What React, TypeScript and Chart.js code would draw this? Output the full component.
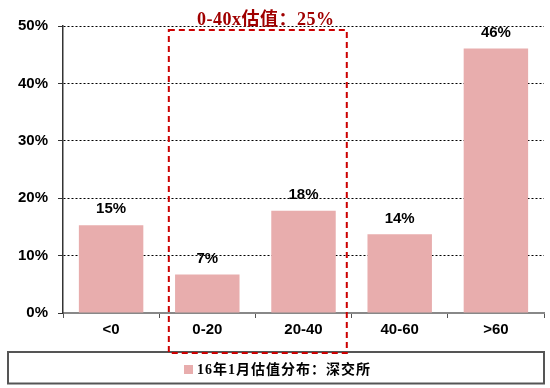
import React, { useEffect, useRef } from "react";
import { Chart, registerables } from "chart.js";

Chart.register(...registerables);

const categories = ["<0", "0-20", "20-40", "40-60", ">60"];
const values = [15.3, 6.7, 17.8, 13.7, 46.1];
const valueLabels = ["15%", "7%", "18%", "14%", "46%"];
const seriesName = "16年1月估值分布：深交所";
const highlightText = "0-40x估值：25%";
const yTicks = [0, 10, 20, 30, 40, 50];

const BAR_COLOR = "#E8ADAD";
const RED = "#CC0000";

const overlayPlugin = {
  id: "overlay",
  afterDatasetsDraw(chart: any) {
    const { ctx, scales } = chart;
    const x = scales.x;
    const meta = chart.getDatasetMeta(0);
    ctx.save();
    // value labels
    ctx.fillStyle = "#000";
    ctx.font = "bold 15px 'Liberation Sans', Arial, sans-serif";
    ctx.textAlign = "center";
    ctx.textBaseline = "middle";
    meta.data.forEach((bar: any, i: number) => {
      ctx.fillText(valueLabels[i], bar.x, bar.y - 16);
    });

    // legend box
    ctx.strokeStyle = "#555";
    ctx.lineWidth = 2;
    ctx.strokeRect(8, 352, 536, 31.5);
    ctx.font = "bold 14px 'Liberation Serif', 'Noto Sans CJK SC', serif";
    try {
      (ctx as any).letterSpacing = "1px";
    } catch (e) {}
    const tw = ctx.measureText(seriesName).width;
    const markerSize = 9;
    const total = markerSize + 4 + tw;
    const start = 184;
    ctx.fillStyle = BAR_COLOR;
    ctx.fillRect(start, 365, markerSize, markerSize);
    ctx.fillStyle = "#000";
    ctx.textAlign = "left";
    ctx.fillText(seriesName, start + markerSize + 4, 370);
    try {
      (ctx as any).letterSpacing = "0px";
    } catch (e) {}
    void total;

    // dashed highlight rectangle
    const left = x.getPixelForValue(0.6);
    const right = x.getPixelForValue(2.45);
    ctx.strokeStyle = RED;
    ctx.lineWidth = 2;
    ctx.setLineDash([6, 4]);
    ctx.strokeRect(left, chart.chartArea.top + 4, right - left, 353 - (chart.chartArea.top + 4));
    ctx.setLineDash([]);

    ctx.fillStyle = "#A00000";
    ctx.font = "bold 18px 'Liberation Serif', 'Noto Sans CJK SC', serif";
    try {
      (ctx as any).letterSpacing = "0.5px";
    } catch (e) {}
    ctx.textAlign = "center";
    ctx.textBaseline = "alphabetic";
    ctx.fillText(highlightText, (left + right) / 2 + 8, 25);
    ctx.restore();
  },
};

export default function App() {
  const ref = useRef<HTMLCanvasElement>(null);
  useEffect(() => {
    if (!ref.current) return;
    const chart = new Chart(ref.current, {
      type: "bar",
      data: {
        labels: categories,
        datasets: [
          {
            label: seriesName,
            data: values,
            backgroundColor: BAR_COLOR,
            borderWidth: 0,
            barPercentage: 0.67,
            categoryPercentage: 1,
          },
        ],
      },
      options: {
        animation: false,
        responsive: true,
        maintainAspectRatio: false,
        layout: { padding: { top: 26, right: 6, left: 0, bottom: 0 } },
        plugins: { legend: { display: false }, tooltip: { enabled: false } },
        scales: {
          x: {
            offset: true,
            grid: {
              display: true,
              drawOnChartArea: false,
              offset: true,
              tickLength: 5,
              color: "#555",
              lineWidth: 1,
            },
            border: { display: true, color: "#888", width: 2 },
            ticks: {
              color: "#000",
              padding: 3,
              font: { family: "'Liberation Sans', Arial, sans-serif", size: 15, weight: "bold" },
            },
            afterFit(scale: any) {
              scale.height = 75;
            },
          },
          y: {
            min: 0,
            max: 50,
            afterBuildTicks(scale: any) {
              scale.ticks = yTicks.map((v) => ({ value: v }));
            },
            grid: {
              color: "#000",
              lineWidth: 1,
              tickLength: 5,
              tickColor: "#333",
              tickBorderDash: [],
            },
            border: { display: true, color: "#333", width: 1.5, dash: [2, 2] },
            ticks: {
              color: "#000",
              padding: 10,
              callback: (v: any) => v + "%",
              font: { family: "'Liberation Sans', Arial, sans-serif", size: 15, weight: "bold" },
            },
            afterFit(scale: any) {
              scale.width = 63;
            },
          },
        },
      },
      plugins: [overlayPlugin],
    });
    return () => chart.destroy();
  }, []);
  return (
    <div style={{ position: "absolute", left: 0, top: 0, width: 550, height: 388 }}>
      <canvas ref={ref} />
    </div>
  );
}
